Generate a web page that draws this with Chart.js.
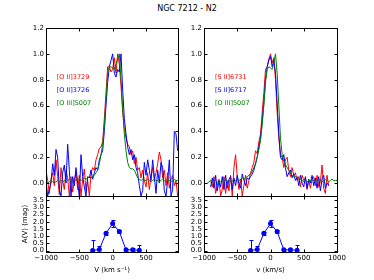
<!DOCTYPE html>
<html><head><meta charset="utf-8">
<script src="https://cdn.jsdelivr.net/npm/chart.js@4/dist/chart.umd.min.js"></script>
<style>
html,body{margin:0;padding:0;background:#fff;width:374px;height:280px;overflow:hidden}
canvas{position:absolute;left:0;top:0}
#title{position:absolute;left:0;width:374px;top:4px;line-height:10px;text-align:center;font-size:8px;font-family:'DejaVu Sans';color:#000}
</style></head><body>
<div id="title">NGC 7212 - N2</div>
<canvas id="c1" width="374" height="280"></canvas>
<canvas id="c2" width="374" height="280"></canvas>
<canvas id="c3" width="374" height="280"></canvas>
<canvas id="c4" width="374" height="280"></canvas>
<script>
// ---------- data ----------
const vLeft = [-1000,-975,-950,-925,-900,-875,-850,-825,-800,-775,-750,-725,-700,-675,-650,-625,-600,-575,-550,-525,-500,-475,-450,-425,-400,-375,-350,-325,-300,-275,-250,-225,-200,-175,-150,-125,-100,-75,-50,-25,0,25,50,75,100,125,150,175,200,225,250,275,300,325,350,375,400,425,450,475,500,525,550,575,600,625,650,675,700,725,750,775,800,825,850,875,900,925,950,975];
const oii3729 = [0.10,0.02,-0.08,0.03,0.08,-0.02,0.18,0.05,-0.09,0.12, 0.02,-0.05,0.10,0.04,-0.10,0.05,-0.07,0.02,0.09,-0.05, 0.06,-0.10,0.03,0.11,-0.06,0.02,-0.10,0.07,0.12,0.10, 0.18,0.22,0.27,0.28,0.32,0.50,0.70,0.90,0.90,0.86, 0.88,0.97,0.85,1.00,0.92,0.75,0.55,0.42,0.35,0.30, 0.28,0.22,0.25,0.15,0.20,0.10,0.12,0.04,0.10,0.02, -0.03,0.08,-0.05,0.05,0.12,0.02,0.08,0.15,0.24,0.18, 0.04,0.10,-0.02,0.08,-0.04,0.03,0.06,-0.02,0.02,-0.10];
const oii3726 = [0.02,-0.10,-0.05,0.00,0.15,0.06,0.26,0.20,-0.05,-0.10, 0.08,0.14,0.00,0.30,0.10,-0.10,0.05,-0.02,0.12,0.00, -0.10,0.22,0.05,-0.03,-0.10,0.05,0.04,0.10,0.03,0.08, 0.12,0.10,0.18,0.22,0.25,0.40,0.60,0.78,0.90,0.95, 1.00,0.85,0.82,0.88,0.86,1.00,0.72,0.50,0.38,0.28, 0.22,0.26,0.18,0.22,0.12,0.08,-0.02,-0.10,-0.06,0.16, 0.06,0.18,0.10,0.02,0.18,0.05,-0.08,0.10,0.00,0.16, 0.12,-0.06,-0.10,0.02,0.18,-0.10,-0.05,0.40,0.38,0.25];
const oiii5007L = [0.01,0.00,0.01,0.02,0.01,0.00,0.01,0.02,0.01,0.02, 0.01,0.02,0.03,0.02,0.03,0.02,0.03,0.03,0.02,0.03, 0.03,0.02,0.03,0.04,0.03,0.04,0.05,0.04,0.05,0.06, 0.08,0.10,0.15,0.22,0.30,0.45,0.65,0.85,0.90,0.90, 0.89,0.88,0.92,0.96,1.00,0.80,0.58,0.38,0.25,0.16, 0.12,0.11,0.11,0.10,0.07,0.04,0.03,0.02,0.03,0.02, 0.02,0.03,0.02,0.01,0.02,0.03,0.02,0.02,0.01,0.02, 0.03,0.02,0.01,0.02,0.02,0.01,0.02,0.03,0.02,0.02];

const vRight = [-900,-875,-850,-825,-800,-775,-750,-725,-700,-675,-650,-625,-600,-575,-550,-525,-500,-475,-450,-425,-400,-375,-350,-325,-300,-275,-250,-225,-200,-175,-150,-125,-100,-75,-50,-25,0,25,50,75,100,125,150,175,200,225,250,275,300,325,350,375,400,425,450,475,500,525,550,575,600,625,650,675,700,725,750,775,800,825,850,875];
const sii6731 = [0.02,-0.03,0.05,-0.08,-0.02,0.03,-0.10,-0.05,0.05,-0.08, 0.02,-0.06,0.06,-0.10,0.12,0.22,0.05,-0.05,0.03,-0.10, -0.02,0.06,-0.04,0.02,0.08,0.12,0.16,0.25,0.23,0.32, 0.38,0.55,0.70,0.88,0.90,0.96,1.00,0.93,0.97,0.80, 0.55,0.35,0.22,0.20,0.12,0.18,0.20,0.10,0.05,0.12, 0.06,0.08,0.02,0.05,-0.03,0.06,0.02,0.04,-0.05,0.02, -0.04,0.03,0.05,-0.02,0.06,-0.03,0.01,0.14,-0.04,-0.08, 0.06,-0.02];
const sii6717 = [-0.03,0.04,-0.04,0.06,-0.06,0.02,-0.03,0.05,-0.05,0.06, -0.04,0.03,0.05,-0.05,0.04,-0.02,0.06,0.00,-0.04,0.07, 0.02,-0.02,0.04,0.03,0.05,0.07,0.10,0.15,0.20,0.28, 0.35,0.48,0.62,0.80,0.90,0.95,0.98,0.90,0.95,0.85, 0.62,0.38,0.20,0.18,0.22,0.12,0.05,0.08,0.10,0.04, 0.07,0.02,0.05,-0.02,0.06,0.00,-0.03,0.05,-0.04,0.03, 0.00,0.06,-0.02,0.04,-0.04,0.05,-0.06,0.03,0.06,-0.04, 0.00,-0.02];
const vRightG = [-950,-925,-900,-875,-850,-825,-800,-775,-750,-725,-700,-675,-650,-625,-600,-575,-550,-525,-500,-475,-450,-425,-400,-375,-350,-325,-300,-275,-250,-225,-200,-175,-150,-125,-100,-75,-50,-25,0,25,50,75,100,125,150,175,200,225,250,275,300,325,350,375,400,425,450,475,500,525,550,575,600,625,650,675,700,725,750,775,800,825,850,875,900,925,950,975,1000];
const oiii5007R = [0.00,0.01,0.02,0.01,0.01,0.02,0.01,0.00,0.01,0.02, 0.01,0.02,0.01,0.02,0.01,0.02,0.03,0.02,0.03,0.02, 0.03,0.04,0.03,0.04,0.05,0.06,0.07,0.09,0.12,0.15, 0.20,0.26,0.33,0.45,0.60,0.78,0.88,0.90,0.89,0.88, 0.93,1.00,0.85,0.60,0.35,0.22,0.17,0.14,0.12,0.10, 0.08,0.06,0.05,0.05,0.04,0.03,0.03,0.02,0.01,0.02, 0.01,0.02,0.02,0.03,0.02,0.01,0.02,0.03,0.02,0.01, 0.02,0.03,0.02,0.01,0.02,0.03,0.02,0.02,0.02];

const avV   = [-300,-200,-100,0,100,200,300,400];
const avMag = [0.00,0.08,1.20,1.88,1.32,0.05,0.05,0.02];
const avErr = [0.72,0.22,0.10,0.22,0.10,0.05,0.11,0.36];

const xTicksLeft  = [-1000,-500,0,500];
const xTicksRight = [-1000,-500,0,500,1000];
const yTicksTop    = [0.0,0.2,0.4,0.6,0.8,1.0,1.2];
const yTicksBottom = [0.0,0.5,1.0,1.5,2.0,2.5,3.0,3.5];

const legendLeft  = ['[O II]3729','[O II]3726','[O III]5007'];
const legendRight = ['[S II]6731','[S II]6717','[O III]5007'];

// ---------- styling / helpers ----------
const FONT = 'DejaVu Sans';
const RED = '#ff0000', BLUE = '#0000ff', GREEN = '#008000';
const pairs = (xs, ys) => xs.map((x, i) => ({x: x, y: ys[i]}));
const fmtX = v => v < 0 ? '\u2212' + Math.abs(v) : String(v);

const framePlugin = {
  id: 'frame',
  afterDraw(chart) {
    const {ctx, chartArea: a, scales: {x, y}} = chart;
    const L = Math.round(a.left) + 0.5, T = Math.round(a.top) + 0.5, R = Math.round(a.right) + 0.5, B = Math.round(a.bottom) + 0.5;
    ctx.save();
    ctx.strokeStyle = '#000'; ctx.lineWidth = 1;
    ctx.strokeRect(L, T, R - L, B - T);
    const tl = 3;
    ctx.beginPath();
    x.ticks.forEach(t => {
      const px = Math.round(x.getPixelForValue(t.value)) + 0.5;
      ctx.moveTo(px, B); ctx.lineTo(px, B - tl);
      ctx.moveTo(px, T); ctx.lineTo(px, T + tl);
    });
    y.ticks.forEach(t => {
      const py = Math.round(y.getPixelForValue(t.value)) + 0.5;
      ctx.moveTo(L, py); ctx.lineTo(L + tl, py);
      ctx.moveTo(R, py); ctx.lineTo(R - tl, py);
    });
    ctx.stroke();
    ctx.restore();
  }
};

const legendTextPlugin = {
  id: 'legendText',
  afterDatasetsDraw(chart, args, o) {
    if (!o || !o.items) return;
    const {ctx, scales: {x, y}} = chart;
    ctx.save();
    ctx.font = '6.5px "' + FONT + '"';
    ctx.textAlign = 'left'; ctx.textBaseline = 'middle';
    o.items.forEach((t, i) => {
      ctx.fillStyle = o.colors[i];
      ctx.fillText(t, x.getPixelForValue(o.x), y.getPixelForValue(o.ys[i]));
    });
    ctx.restore();
  }
};

const errPlugin = {
  id: 'errBars',
  beforeDatasetsDraw(chart, args, o) {
    if (!o || !o.xs) return;
    const {ctx, chartArea: a, scales: {x, y}} = chart;
    ctx.save();
    ctx.beginPath(); ctx.rect(a.left, a.top, a.right - a.left, a.bottom - a.top); ctx.clip();
    ctx.strokeStyle = o.color; ctx.lineWidth = 1;
    ctx.beginPath();
    o.xs.forEach((v, i) => {
      const px = Math.round(x.getPixelForValue(v)) + 0.5;
      const y1 = Math.round(y.getPixelForValue(o.ys[i] - o.errs[i])) + 0.5;
      const y2 = Math.round(y.getPixelForValue(o.ys[i] + o.errs[i])) + 0.5;
      ctx.moveTo(px, y1); ctx.lineTo(px, y2);
      ctx.moveTo(px - 2, y2); ctx.lineTo(px + 2, y2);
      ctx.moveTo(px - 2, y1); ctx.lineTo(px + 2, y1);
    });
    ctx.stroke();
    ctx.restore();
  }
};

function panel(id, p) {
  const tickFont = {family: FONT, size: 7};
  return new Chart(document.getElementById(id), {
    type: 'line',
    data: {datasets: p.datasets},
    options: {
      responsive: false, animation: false, devicePixelRatio: 1, events: [],
      layout: {padding: {left: p.l - p.yW, top: p.t, right: 374 - p.r, bottom: 280 - p.b - p.xH}},
      plugins: {
        legend: {display: false}, tooltip: {enabled: false},
        legendText: p.legend || {}, errBars: p.err || {}
      },
      scales: {
        x: {
          type: 'linear', min: p.xMin, max: p.xMax,
          grid: {display: false, drawTicks: false}, border: {display: false},
          afterBuildTicks: s => { s.ticks = p.xTicks.map(v => ({value: v})); },
          afterFit: s => { s.height = p.xH; },
          ticks: {display: p.showX, font: tickFont, color: '#000', padding: 2, autoSkip: false, maxRotation: 0, minRotation: 0, callback: v => fmtX(v)},
          title: {display: !!p.xTitle, text: p.xTitle || '', font: tickFont, color: '#000', padding: 0}
        },
        y: {
          type: 'linear', min: p.yMin, max: p.yMax,
          grid: {display: false, drawTicks: false}, border: {display: false},
          afterBuildTicks: s => { s.ticks = p.yTicks.map(v => ({value: v})); },
          afterFit: s => { s.width = p.yW; },
          ticks: {font: tickFont, color: '#000', padding: 2, autoSkip: false, callback: v => v.toFixed(1)},
          title: {display: !!p.yTitle, text: p.yTitle || '', font: tickFont, color: '#000', padding: 0}
        }
      }
    },
    plugins: [framePlugin, legendTextPlugin, errPlugin]
  });
}

const lineDs = (xs, ys, c) => ({data: pairs(xs, ys), borderColor: c, borderWidth: 1, pointRadius: 0, fill: false, tension: 0});
const avDs = () => ({data: pairs(avV, avMag), borderColor: BLUE, borderWidth: 1, pointRadius: 2.5, pointBackgroundColor: BLUE, pointBorderColor: BLUE, pointBorderWidth: 0, fill: false, tension: 0});
const avErrOpts = {xs: avV, ys: avMag, errs: avErr, color: BLUE};

// top-left
panel('c1', {l: 46, t: 28, r: 178, b: 196, yW: 40, xH: 0, xMin: -1000, xMax: 980, yMin: -0.1, yMax: 1.2,
  xTicks: xTicksLeft, yTicks: yTicksTop, showX: false,
  datasets: [lineDs(vLeft, oiii5007L, GREEN), lineDs(vLeft, oii3726, BLUE), lineDs(vLeft, oii3729, RED)],
  legend: {items: legendLeft, colors: [RED, BLUE, GREEN], x: -840, ys: [0.818, 0.715, 0.618]}});
// top-right
panel('c2', {l: 204, t: 28, r: 337, b: 196, yW: 40, xH: 0, xMin: -1000, xMax: 1000, yMin: -0.1, yMax: 1.2,
  xTicks: xTicksRight, yTicks: yTicksTop, showX: false,
  datasets: [lineDs(vRightG, oiii5007R, GREEN), lineDs(vRight, sii6717, BLUE), lineDs(vRight, sii6731, RED)],
  legend: {items: legendRight, colors: [RED, BLUE, GREEN], x: -835, ys: [0.818, 0.715, 0.618]}});
// bottom-left
panel('c3', {l: 46, t: 196, r: 178, b: 252, yW: 25, xH: 22, xMin: -1000, xMax: 980, yMin: -0.1, yMax: 3.8,
  xTicks: xTicksLeft, yTicks: yTicksBottom, showX: true, xTitle: 'V (km s\u207B\u00B9)', yTitle: 'A(V) (mag)',
  datasets: [avDs()], err: avErrOpts});
// bottom-right
panel('c4', {l: 204, t: 196, r: 337, b: 252, yW: 40, xH: 22, xMin: -1000, xMax: 1000, yMin: -0.1, yMax: 3.8,
  xTicks: xTicksRight, yTicks: yTicksBottom, showX: true, xTitle: 'v (km/s)',
  datasets: [avDs()], err: avErrOpts});
</script>
</body></html>
